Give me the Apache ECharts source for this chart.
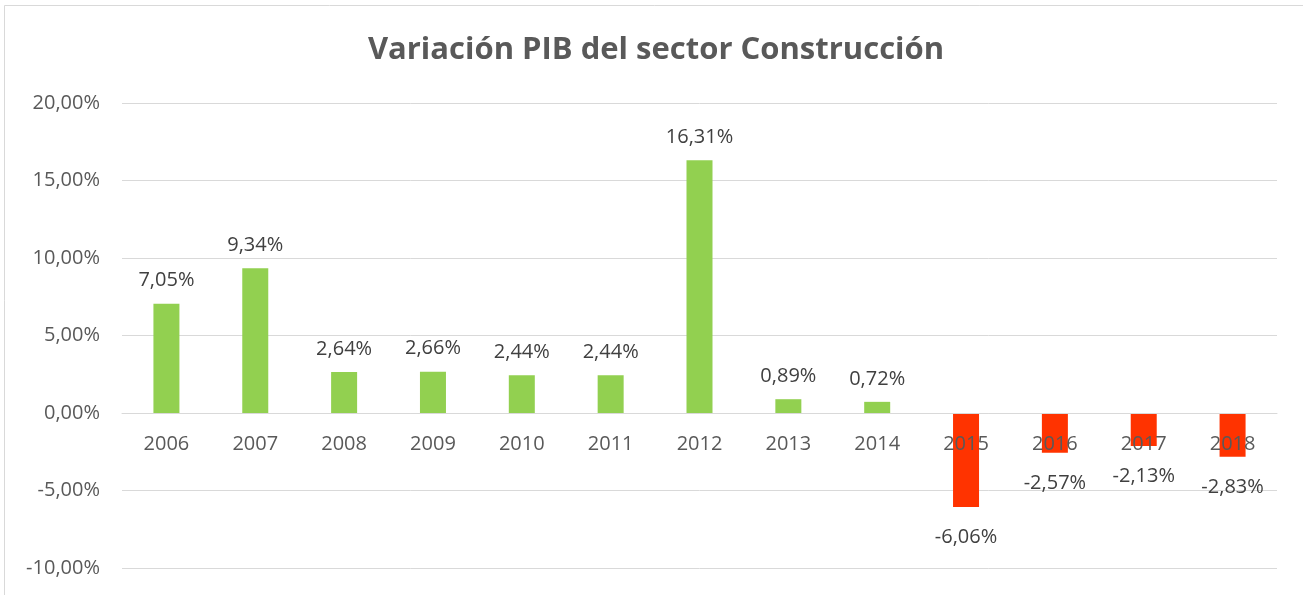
<!DOCTYPE html>
<html>
<head>
<meta charset="utf-8">
<script src="https://cdn.jsdelivr.net/npm/echarts@6/dist/echarts.min.js"></script>
<style>
  html, body { margin: 0; padding: 0; background: #fff; }
  #chart { width: 1303px; height: 595px; }
</style>
</head>
<body>
<div id="chart"></div>
<script>
var years = ["2006", "2007", "2008", "2009", "2010", "2011", "2012", "2013", "2014", "2015", "2016", "2017", "2018"];
var variacion = [7.05, 9.34, 2.64, 2.66, 2.44, 2.44, 16.31, 0.89, 0.72, -6.06, -2.57, -2.13, -2.83];
var yTicks = [-10, -5, 0, 5, 10, 15, 20];

var fmt = function (v) {
  return v.toFixed(2).replace(".", ",") + "%";
};

var myChart = echarts.init(document.getElementById("chart"));

var gridTop = 103, gridBottom = 27;
var plotH = 595 - gridTop - gridBottom;
var yMin = yTicks[0], yMax = yTicks[yTicks.length - 1];
// move the category axis up to the zero line
var zeroOffset = -plotH * (0 - yMin) / (yMax - yMin);

var barData = variacion.map(function (v) {
  return {
    value: v,
    itemStyle: { color: v < 0 ? "#FF3300" : "#92D050" },
    label: v < 0 ? { position: "bottom", distance: 20 } : { position: "top", distance: 13 }
  };
});

var option = {
  animation: false,
  backgroundColor: "#fff",
  textStyle: { fontFamily: "Open Sans" },
  title: {
    text: "Variación PIB del sector Construcción",
    left: 651,
    top: 30,
    textAlign: "center",
    textStyle: { fontFamily: "Open Sans", fontSize: 31, fontWeight: "bold", color: "#595959" }
  },
  graphic: [{
    type: "rect",
    shape: { x: 4.5, y: 5.5, width: 1400, height: 700 },
    style: { fill: "none", stroke: "#D9D9D9", lineWidth: 1 },
    silent: true
  }],
  grid: { left: 122, right: 26, top: gridTop, bottom: gridBottom, containLabel: false, outerBoundsMode: "none" },
  xAxis: {
    type: "category",
    data: years,
    z: 10,
    position: "bottom",
    offset: zeroOffset,
    axisLine: { onZero: false, lineStyle: { color: "#D9D9D9", width: 1 } },
    axisTick: { show: false },
    axisLabel: { color: "#595959", fontSize: 20, margin: 21 }
  },
  yAxis: {
    type: "value",
    min: yMin,
    max: yMax,
    interval: 5,
    axisLine: { show: false },
    axisTick: { show: false },
    splitLine: { lineStyle: { color: "#D9D9D9", width: 1 } },
    axisLabel: { color: "#595959", fontSize: 20, margin: 22, formatter: fmt }
  },
  series: [{
    type: "bar",
    data: barData,
    barWidth: 26,
    label: {
      show: true,
      color: "#404040",
      fontSize: 20,
      formatter: function (p) { return fmt(p.value); }
    }
  }]
};

option && myChart.setOption(option);
</script>
</body>
</html>
